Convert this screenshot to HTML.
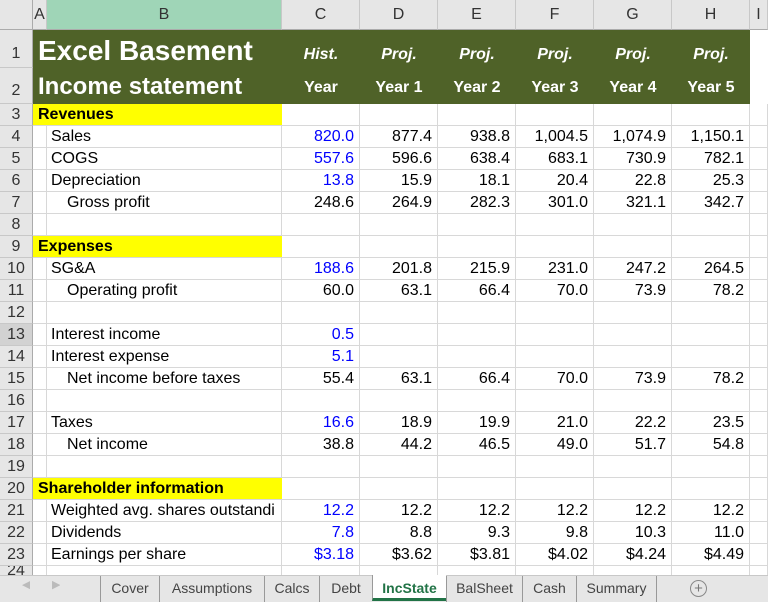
<!DOCTYPE html>
<html><head><meta charset="utf-8"><style>
body{margin:0;width:768px;height:602px;overflow:hidden;background:#fff;font-family:"Liberation Sans",Arial,sans-serif;position:relative}
.a{position:absolute;box-sizing:border-box;white-space:nowrap;overflow:hidden}
.ch{background:#e6e6e6;border-right:1px solid #c8c8c8;border-bottom:1px solid #ababab;text-align:center;font-size:16px;color:#333;line-height:30px;top:0;height:30px}
.rh{background:#e6e6e6;border-bottom:1px solid #c8c8c8;border-right:1px solid #ababab;text-align:center;font-size:16px;color:#333;left:0;width:33px}
.c{border-right:1px solid #d8d8d8;border-bottom:1px solid #d8d8d8;font-size:16px;color:#000;padding:0 4px}
.n{text-align:right;padding-right:6px}
.blue{color:#0000ff}
.tab{top:576px;height:26px;line-height:24px;font-size:14px;color:#444;text-align:center;border-left:1px solid #999}
</style></head><body>
<div class="a" style="left:0;top:0;width:33px;height:30px;background:#e6e6e6;border-right:1px solid #ababab;border-bottom:1px solid #ababab"></div>
<div id="grid"></div>
<div class="a" style="left:0;top:575px;width:768px;height:27px;background:#e6e6e6;border-top:1px solid #c8c8c8"></div>
<div class="a" style="left:22px;top:578px;font-size:11px;color:#bbb">◀</div>
<div class="a" style="left:52px;top:578px;font-size:11px;color:#bbb">▶</div>
<div class="a tab" style="left:100px;width:59px">Cover</div>
<div class="a tab" style="left:159px;width:105px">Assumptions</div>
<div class="a tab" style="left:264px;width:55px">Calcs</div>
<div class="a tab" style="left:319px;width:53px">Debt</div>
<div class="a tab" style="left:372px;width:74px;top:575px;background:#fff;color:#217346;font-weight:bold;border-bottom:3px solid #217346;line-height:26px">IncState</div>
<div class="a tab" style="left:446px;width:76px">BalSheet</div>
<div class="a tab" style="left:522px;width:54px">Cash</div>
<div class="a tab" style="left:576px;width:81px;border-right:1px solid #999">Summary</div>
<div class="a" style="left:690px;top:580px;width:17px;height:17px;border:1px solid #888;border-radius:50%;text-align:center;line-height:15px;font-size:15px;color:#777">+</div>
<script>
const g=document.getElementById('grid');
function mk(cls,l,t,w,h,txt,name,inter){const d=document.createElement('div');d.className='a '+cls;d.style.left=l+'px';d.style.top=t+'px';d.style.width=w+'px';d.style.height=h+'px';d.style.lineHeight=h+'px';d.textContent=txt;


g.appendChild(d);return d;}
const colL=[33,47,282,360,438,516,594,672,750];
const colW=[14,235,78,78,78,78,78,78,18];
const colN=['A','B','C','D','E','F','G','H','I'];
colN.forEach((n,i)=>{const d=mk('ch',colL[i],0,colW[i],30,n,'column-header-'+n.toLowerCase(),true);if(n==='B'){d.style.background='#9fd5b7';}});
const rowTop=[30,68];for(let r=3;r<=24;r++)rowTop.push(104+(r-3)*22);
rowTop.forEach((t,i)=>{const h=i<2?(i==0?38:36):22;const d=mk('rh',0,t,33,i+1===24?10:h,String(i+1),'row-header-'+(i+1),true);if(i<2)d.style.lineHeight=(h+10)+'px';if(i+1===13)d.style.background='#d2d2d2';});
// cells
for(let r=3;r<=24;r++){for(let c=0;c<9;c++){const d=mk('c',colL[c],rowTop[r-1],colW[c],r===24?10:22,'','cell-'+colN[c].toLowerCase()+r,true);}}
// banner
const b=mk('',33,30,717,74,'','title-banner',false);b.style.background='#4f6228';
const t1=mk('',38,30,244,38,'Excel Basement','title-excel-basement',false);t1.style.color='#fff';t1.style.fontSize='28px';t1.style.fontWeight='bold';t1.style.lineHeight='42px';
const t2=mk('',38,68,244,36,'Income statement','subtitle-income-statement',false);t2.style.color='#fff';t2.style.fontSize='24px';t2.style.fontWeight='bold';t2.style.lineHeight='38px';
const h1=['Hist.','Proj.','Proj.','Proj.','Proj.','Proj.'];const h2=['Year','Year 1','Year 2','Year 3','Year 4','Year 5'];
h1.forEach((s,i)=>{const d=mk('',colL[i+2],30,colW[i+2],38,s,'header-type-'+(i),false);d.style.cssText+='color:#fff;font-weight:bold;font-style:italic;font-size:16px;text-align:center;line-height:50px';});
h2.forEach((s,i)=>{const d=mk('',colL[i+2],68,colW[i+2],36,s,'header-year-'+(i),false);d.style.cssText+='color:#fff;font-weight:bold;font-size:16px;text-align:center;line-height:40px';});
// yellow section headers
[[3,'Revenues'],[9,'Expenses'],[20,'Shareholder information']].forEach(([r,s])=>{const d=mk('',33,rowTop[r-1],249,21,s,'section-'+s.toLowerCase().replace(/ /g,'-'),false);d.style.cssText+='background:#ffff00;font-weight:bold;font-size:16px;padding-left:5px';});
const rows=[
[4,'Sales',0,['820.0','877.4','938.8','1,004.5','1,074.9','1,150.1'],1],
[5,'COGS',0,['557.6','596.6','638.4','683.1','730.9','782.1'],1],
[6,'Depreciation',0,['13.8','15.9','18.1','20.4','22.8','25.3'],1],
[7,'Gross profit',1,['248.6','264.9','282.3','301.0','321.1','342.7'],0],
[10,'SG&A',0,['188.6','201.8','215.9','231.0','247.2','264.5'],1],
[11,'Operating profit',1,['60.0','63.1','66.4','70.0','73.9','78.2'],0],
[13,'Interest income',0,['0.5','','','','',''],1],
[14,'Interest expense',0,['5.1','','','','',''],1],
[15,'Net income before taxes',1,['55.4','63.1','66.4','70.0','73.9','78.2'],0],
[17,'Taxes',0,['16.6','18.9','19.9','21.0','22.2','23.5'],1],
[18,'Net income',1,['38.8','44.2','46.5','49.0','51.7','54.8'],0],
[21,'Weighted avg. shares outstandi',0,['12.2','12.2','12.2','12.2','12.2','12.2'],1],
[22,'Dividends',0,['7.8','8.8','9.3','9.8','10.3','11.0'],1],
[23,'Earnings per share',0,['$3.18','$3.62','$3.81','$4.02','$4.24','$4.49'],1]];
rows.forEach(([r,lab,ind,vals,blue])=>{const name=lab.toLowerCase().replace(/[^a-z]+/g,'-');
const d=mk('',47+(ind?16:0),rowTop[r-1],235-(ind?16:0),22,lab,'label-'+name,false);d.style.fontSize='16px';d.style.paddingLeft='4px';
vals.forEach((v,i)=>{if(!v)return;const e=mk('n',colL[i+2],rowTop[r-1],colW[i+2],22,v,'value-'+name+'-'+colN[i+2].toLowerCase(),false);e.style.fontSize='16px';if(i===0&&blue)e.style.color='#0000ff';});});
</script>
</body></html>
